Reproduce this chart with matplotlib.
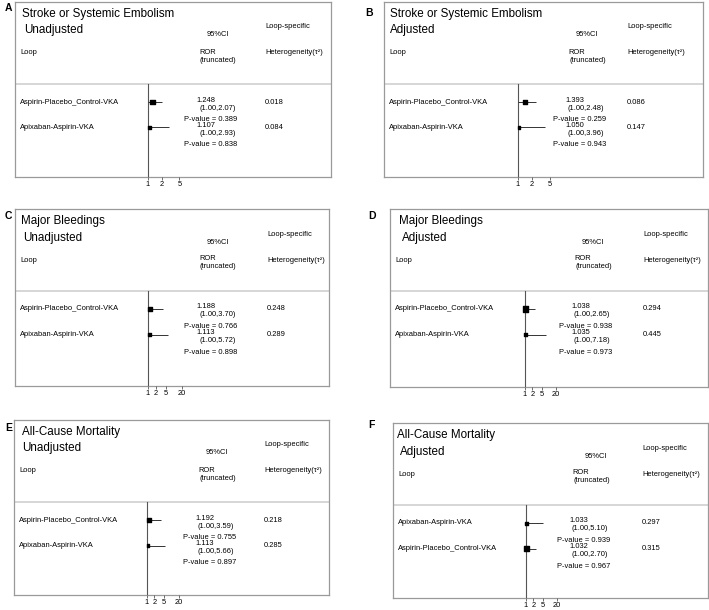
import matplotlib
matplotlib.use('Agg')
import matplotlib.pyplot as plt
from matplotlib.ticker import NullLocator

plt.rcParams['font.family'] = ['Liberation Sans', 'DejaVu Sans']

W, H = 709, 610

# ---- dados ----
letras = ['A', 'B', 'C', 'D', 'E', 'F']
titulos = ['Stroke or Systemic Embolism', 'Stroke or Systemic Embolism',
           'Major Bleedings', 'Major Bleedings',
           'All-Cause Mortality', 'All-Cause Mortality']
subtitulos = ['Unadjusted', 'Adjusted', 'Unadjusted', 'Adjusted',
              'Unadjusted', 'Adjusted']

loops_padrao = ['Aspirin-Placebo_Control-VKA', 'Apixaban-Aspirin-VKA']
loops_f = ['Apixaban-Aspirin-VKA', 'Aspirin-Placebo_Control-VKA']

ror_a = [1.248, 1.107]
lo_a = [1.00, 1.00]
hi_a = [2.07, 2.93]
p_a = [0.389, 0.838]
tau_a = [0.018, 0.084]
peso_a = [0.56, 0.25]

ror_b = [1.393, 1.050]
lo_b = [1.00, 1.00]
hi_b = [2.48, 3.96]
p_b = [0.259, 0.943]
tau_b = [0.086, 0.147]
peso_b = [0.50, 0.20]

ror_c = [1.188, 1.113]
lo_c = [1.00, 1.00]
hi_c = [3.70, 5.72]
p_c = [0.766, 0.898]
tau_c = [0.248, 0.289]
peso_c = [0.38, 0.20]

ror_d = [1.038, 1.035]
lo_d = [1.00, 1.00]
hi_d = [2.65, 7.18]
p_d = [0.938, 0.973]
tau_d = [0.294, 0.445]
peso_d = [0.70, 0.25]

ror_e = [1.192, 1.113]
lo_e = [1.00, 1.00]
hi_e = [3.59, 5.66]
p_e = [0.755, 0.897]
tau_e = [0.218, 0.285]
peso_e = [0.38, 0.20]

ror_f = [1.033, 1.032]
lo_f = [1.00, 1.00]
hi_f = [5.10, 2.70]
p_f = [0.939, 0.967]
tau_f = [0.297, 0.315]
peso_f = [0.25, 0.56]

ticks_ab = [1, 2, 5]
ticks_cf = [1, 2, 5, 20]

# ---- layout (pixels) ----
# caixa (esq, topo, dir, base), linha vertical x, px por década, rótulo (x, y)
layout = [
    dict(caixa=(15, 2, 331, 177), vx=148, ppd=45, rot=(5, 8), tx=7, sx=9, col=0, het=250),
    dict(caixa=(384, 2, 703, 177), vx=518, ppd=46, rot=(365, 13), tx=6, sx=6, col=0, het=243),
    dict(caixa=(15, 209, 329, 386), vx=148, ppd=26, rot=(5, 216), tx=6, sx=8, col=0, het=252),
    dict(caixa=(390, 209, 708, 387), vx=525, ppd=24, rot=(368, 216), tx=9, sx=12, col=0, het=253),
    dict(caixa=(14, 420, 329, 595), vx=147, ppd=24.5, rot=(5, 428), tx=8, sx=8, col=0, het=250),
    dict(caixa=(393, 423, 708, 598), vx=526, ppd=24, rot=(368, 425), tx=4, sx=7, col=-5, het=249),
]

paineis = [
    (loops_padrao, ror_a, lo_a, hi_a, p_a, tau_a, peso_a, ticks_ab),
    (loops_padrao, ror_b, lo_b, hi_b, p_b, tau_b, peso_b, ticks_ab),
    (loops_padrao, ror_c, lo_c, hi_c, p_c, tau_c, peso_c, ticks_cf),
    (loops_padrao, ror_d, lo_d, hi_d, p_d, tau_d, peso_d, ticks_cf),
    (loops_padrao, ror_e, lo_e, hi_e, p_e, tau_e, peso_e, ticks_cf),
    (loops_f, ror_f, lo_f, hi_f, p_f, tau_f, peso_f, ticks_cf),
]

FS_TIT = 8.4
FS_TXT = 5.4
SEP = 82
LINHA0 = 100
PASSO = 25.5

fig = plt.figure(figsize=(W / 100, H / 100), dpi=100)

for i in range(6):
    loops, ror, lo, hi, pv, tau, peso, ticks = paineis[i]
    lay = layout[i]
    l, t, r, b = lay['caixa']
    w, h = r - l, b - t
    rect = [l / W, 1 - b / H, w / W, h / H]

    # caixa com os textos (coordenadas em pixels relativos à caixa)
    ax = fig.add_axes(rect)
    ax.set_xlim(0, w)
    ax.set_ylim(h, 0)
    ax.set_xticks([])
    ax.set_yticks([])
    for s in ax.spines.values():
        s.set_color('#9a9a9a')
        s.set_linewidth(0.9)
    ax.axhline(SEP, color='#d0d0d0', linewidth=1.2)

    fig.text(lay['rot'][0] / W, 1 - lay['rot'][1] / H, letras[i],
             fontsize=7.5, fontweight='bold', va='center', ha='left')

    ax.text(lay['tx'], 12, titulos[i], fontsize=FS_TIT, va='center')
    ax.text(lay['sx'], 28.5, subtitulos[i], fontsize=FS_TIT, va='center')
    ax.text(5, 51, 'Loop', fontsize=FS_TXT, va='center')
    c = lay['col']
    ax.text(203, 33, '95%CI', fontsize=FS_TXT, va='center', ha='center')
    ax.text(184 + c, 50, 'ROR', fontsize=FS_TXT, va='center')
    ax.text(185 + c, 58, '(truncated)', fontsize=FS_TXT, va='center')
    ax.text(lay['het'], 25, 'Loop-specific', fontsize=FS_TXT, va='center')
    ax.text(lay['het'], 51, 'Heterogeneity(τ²)', fontsize=FS_TXT, va='center')

    linhas = [LINHA0 + k * PASSO for k in range(len(loops))]
    for k, y in enumerate(linhas):
        ax.text(5, y, loops[k], fontsize=FS_TXT, va='center')
        ax.text(181 + c, y - 2, f'{ror[k]:.3f}', fontsize=FS_TXT, va='center')
        ax.text(184 + c, y + 6, f'({lo[k]:.2f},{hi[k]:.2f})', fontsize=FS_TXT, va='center')
        ax.text(169 + c, y + 17.5, f'P-value = {pv[k]:.3f}', fontsize=FS_TXT, va='center')
        ax.text(lay['het'], y, f'{tau[k]:.3f}', fontsize=FS_TXT, va='center')

    # parte do forest plot em escala log
    vx = lay['vx'] - l
    ppd = lay['ppd']
    fa = fig.add_axes(rect, facecolor='none')
    fa.set_xscale('log')
    fa.set_xlim(10 ** (-vx / ppd), 10 ** ((w - vx) / ppd))
    fa.set_ylim(h, 0)
    for s in fa.spines.values():
        s.set_visible(False)
    fa.set_yticks([])
    fa.set_xticks(ticks)
    fa.set_xticklabels([str(x) for x in ticks])
    fa.xaxis.set_minor_locator(NullLocator())
    fa.tick_params(axis='x', direction='out', length=2.2, width=0.6,
                   color='#555555', pad=1.0, labelsize=FS_TXT)

    fa.plot([1, 1], [SEP, h], color='#555555', linewidth=0.8)
    fa.hlines(linhas, lo, hi, color='#333333', linewidth=0.7)
    lados = [(6 * p ** 0.5 * 0.72) ** 2 for p in peso]
    fa.scatter(ror, linhas, marker='s', s=lados, color='black', zorder=3)

fig.savefig('out.png', dpi=100)
